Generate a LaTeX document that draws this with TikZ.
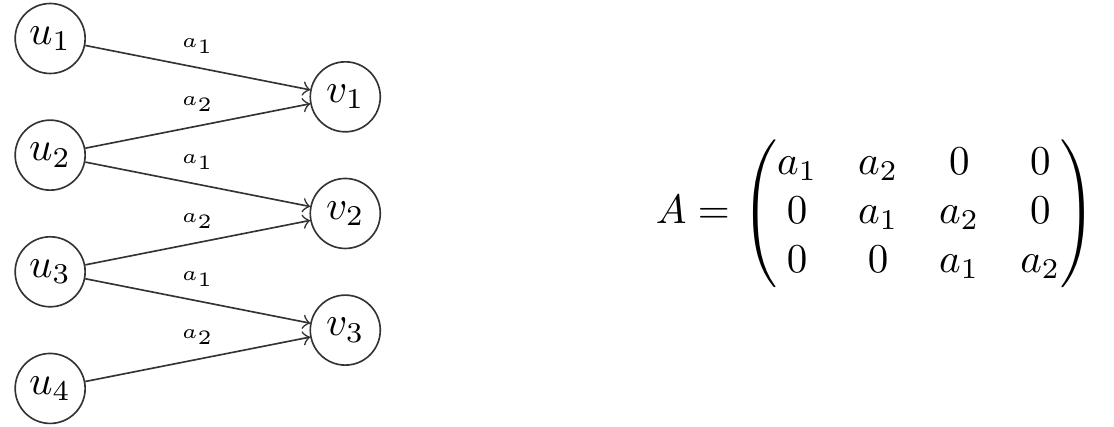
\documentclass[tikz,border=0pt]{standalone}
\usepackage{amsmath, amssymb}
\usepackage{tikz}

\begin{document}
\begin{tikzpicture}[scale=1.0]

  % Fix the size of the picture
  \useasboundingbox (0,0) rectangle (9.55,3.66);

  % Style for the vertices
  \tikzset{vertex/.style={draw=black!80, circle, minimum size=0.6cm, inner sep=0pt}}
  \tikzset{weight/.style={midway, above, font=\tiny}}

  % Draw the input vertices
  \node[vertex] (u1) at (0.43,3.33) {$u_1$};
  \node[vertex] (u2) at (0.43,2.33) {$u_2$};
  \node[vertex] (u3) at (0.43,1.33) {$u_3$};
  \node[vertex] (u4) at (0.43,0.33) {$u_4$};

  % Draw the output vertices
  \node[vertex] (v1) at (2.96,2.83) {$v_1$};
  \node[vertex] (v2) at (2.96,1.83) {$v_2$};
  \node[vertex] (v3) at (2.96,0.83) {$v_3$};

  % Draw the weighted edges
  \draw[->, black!80] (u1) -- node[weight, black] {$a_1$} (v1);
  \draw[->, black!80] (u2) -- node[weight, black] {$a_2$} (v1);
  \draw[->, black!80] (u2) -- node[weight, black] {$a_1$} (v2);
  \draw[->, black!80] (u3) -- node[weight, black] {$a_2$} (v2);
  \draw[->, black!80] (u3) -- node[weight, black] {$a_1$} (v3);
  \draw[->, black!80] (u4) -- node[weight, black] {$a_2$} (v3);

  % The matrix of the map
  \node (mat) at (7.51,1.83) {$A = \begin{pmatrix}
      a_1 & a_2 & 0 & 0 \\
      0 & a_1 & a_2 & 0 \\
      0 & 0 & a_1 & a_2
    \end{pmatrix}$};

\end{tikzpicture}
\end{document}
